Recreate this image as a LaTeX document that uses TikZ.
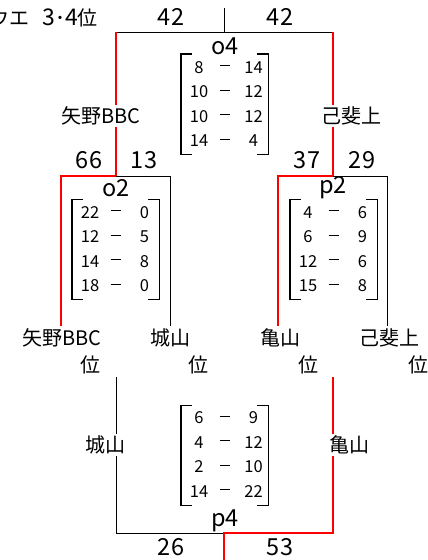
\documentclass[tikz,border=0pt]{standalone}
\usepackage{fontspec}
\setmainfont{Noto Sans CJK JP}
\usetikzlibrary{positioning}

\tikzset{
  win/.style={red,line width=2.6pt},
  lose/.style={black,line width=0.8pt},
  lbl/.style={font=\fontsize{20}{22}\selectfont,inner sep=1pt},
  tm/.style={lbl,fill=white,inner sep=2pt},
  pt/.style={font=\fontsize{23.5}{25}\selectfont,inner sep=1pt},
  num/.style={font=\fontsize{16.5}{18}\selectfont,inner sep=0pt},
  mat/.style={minimum width=87pt,minimum height=100pt,inner sep=0pt},
  brk/.style={line width=1.4pt}
}

\newcommand{\suji}[1]{{\fontsize{23}{24}\selectfont#1}}
\newcommand{\bou}{\rule[0.3em]{10pt}{0.9pt}}

% brackets round a score block
\newcommand{\kakko}[1]{%
  \draw[brk] ([xshift=11pt]#1.north west) -- (#1.north west) -- (#1.south west) -- ([xshift=11pt]#1.south west);
  \draw[brk] ([xshift=-11pt]#1.north east) -- (#1.north east) -- (#1.south east) -- ([xshift=-11pt]#1.south east);}

% score rows: name, centre x, first row y, list
\newcommand{\scorerows}[4]{%
  \foreach \a/\b [count=\i] in {#4} {
    \node[num] (#1a\i) at ({#2-25.5},{#3+24.5*(\i-1)}) {\a};
    \node[num] (#1d\i) at (#2,{#3+24.5*(\i-1)}) {\strut\bou};
    \node[num] (#1b\i) at ({#2+29},{#3+24.5*(\i-1)}) {\b};
  }}

\begin{document}
\begin{tikzpicture}[x=1pt,y=-1pt]
  \useasboundingbox (0,0) rectangle (428,560);

  \node[lbl,anchor=east] (title) at (99,18) {ウエ\hspace{13pt}\suji{3}･\suji{4}位};

  % o4
  \coordinate (top) at (224,8);
  \coordinate (o4) at (224,32);
  \coordinate (o4l) at (116,32);
  \coordinate (o4r) at (333,32);
  \coordinate (o2) at (116,176);
  \coordinate (p2) at (333,176);
  \draw[lose] (top) -- (o4);
  \draw[lose] (o4l) -- (o4r);
  \draw[win] (o4l) -- (o2);
  \draw[win] (o4r) -- (p2);
  \node[pt] (o4n) at (225,46) {o4};
  \node[pt] (s1) at (171,17) {42};
  \node[pt] (s2) at (280,17) {42};
  \node[tm] (t1) at (101,116) {矢野BBC};
  \node[tm] (t2) at (351,116) {己斐上};
  \node[mat] (o4m) at (224.5,104) {};
  \kakko{o4m}
  \scorerows{o4}{224.5}{67.5}{8/14,10/12,10/12,14/4}

  % o2
  \coordinate (o2l) at (61,176);
  \coordinate (o2r) at (170,176);
  \coordinate (o2la) at (61,326);
  \coordinate (o2ra) at (170,326);
  \draw[win] (o2) -- (o2l) -- (o2la);
  \draw[lose] (o2) -- (o2r) -- (o2ra);
  \node[pt] (o2n) at (116,188) {o2};
  \node[pt] (s3) at (89,160) {66};
  \node[pt] (s4) at (144,160) {13};
  \node[mat] (o2m) at (115.5,249.5) {};
  \kakko{o2m}
  \scorerows{o2}{115.5}{212.5}{22/0,12/5,14/8,18/0}

  % p2
  \coordinate (p2l) at (278,176);
  \coordinate (p2r) at (387,176);
  \coordinate (p2la) at (278,326);
  \coordinate (p2ra) at (387,326);
  \draw[win] (p2) -- (p2l) -- (p2la);
  \draw[lose] (p2) -- (p2r) -- (p2ra);
  \node[pt] (p2n) at (333,188) {p2};
  \node[pt] (s5) at (307,160) {37};
  \node[pt] (s6) at (362,160) {29};
  \node[mat] (p2m) at (333.5,249.5) {};
  \kakko{p2m}
  \scorerows{p2}{333.5}{212.5}{4/6,6/9,12/6,15/8}

  % teams
  \node[lbl] (n1) at (62,338) {矢野BBC};
  \node[lbl] (n2) at (170,338) {城山};
  \node[lbl] (n3) at (280,338) {亀山};
  \node[lbl] (n4) at (389,338) {己斐上};
  \node[lbl] (r1) at (90,365) {位};
  \node[lbl] (r2) at (198,365) {位};
  \node[lbl] (r3) at (308,365) {位};
  \node[lbl] (r4) at (418,365) {位};

  % p4
  \coordinate (p4la) at (116,377);
  \coordinate (p4ra) at (333,377);
  \coordinate (p4l) at (116,533);
  \coordinate (p4r) at (333,533);
  \coordinate (p4) at (224,533);
  \coordinate (bot) at (224,560);
  \draw[lose] (p4la) -- (p4l) -- (p4);
  \draw[win] (p4ra) -- (p4r) -- (p4) -- (bot);
  \node[tm] (t3) at (105,445) {城山};
  \node[tm] (t4) at (349,445) {亀山};
  \node[pt] (p4n) at (225,521) {p4};
  \node[pt] (s7) at (171,547) {26};
  \node[pt] (s8) at (280,547) {53};
  \node[mat] (p4m) at (224.5,455.5) {};
  \kakko{p4m}
  \scorerows{p4}{224.5}{418}{6/9,4/12,2/10,14/22}
\end{tikzpicture}
\end{document}
